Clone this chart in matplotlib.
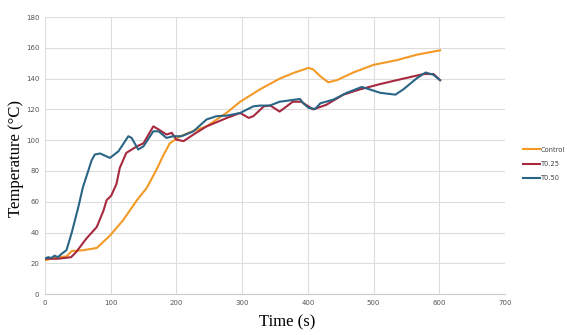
import matplotlib
matplotlib.use("Agg")
import matplotlib.pyplot as plt
import numpy as np

# Control
t_ctrl = [0, 10, 20, 33, 41, 58, 79, 99, 119, 140, 155, 170, 180, 190, 206, 226, 246,
          277, 297, 327, 357, 380, 401, 408, 419, 431, 444, 469, 500, 535, 566, 601]
y_ctrl = [22, 23, 24, 24.5, 28, 28.5, 30, 38, 48, 61, 69, 81, 90, 98, 102.6, 106, 109,
          118, 125, 133, 140, 144, 147, 146, 141.5, 137.6, 139, 144, 149, 152, 155.6, 158.4]

# T0.25
t_t25 = [0, 20, 40, 48, 63, 79, 89, 94, 101, 109, 114, 124, 140, 150, 165, 173, 185,
         193, 200, 211, 226, 246, 277, 297, 310, 317, 333, 343, 357, 377, 390, 408,
         428, 454, 479, 510, 545, 576, 591, 601]
y_t25 = [23, 23, 24, 27.5, 36, 43.6, 54, 61, 64, 71.6, 82, 91.8, 96, 98, 109, 107, 103.7,
         104.8, 100.4, 99.4, 103.7, 109, 114.5, 117.7, 114.5, 115.6, 122, 122.5, 118.6,
         125, 125, 120, 123, 129.6, 133, 136.5, 140, 143, 143, 139]

# T0.50
t_t50 = [0, 5, 10, 15, 20, 25, 33, 41, 51, 58, 66, 71, 76, 84, 99, 112, 127, 132, 142,
         150, 165, 173, 185, 195, 208, 226, 246, 261, 277, 297, 317, 327, 342, 357,
         388, 393, 401, 411, 419, 439, 459, 482, 494, 510, 533, 545, 566, 579, 591, 601]
y_t50 = [23, 24, 23.5, 25, 24, 26, 28.6, 40, 56.6, 69.5, 80, 86.7, 90.7, 91.4, 88.5, 92.8,
         102.6, 101.5, 94, 96, 105.8, 105.8, 101.5, 102.6, 102.6, 105.8, 113.5, 115.6,
         116, 117.7, 122, 122.5, 122.5, 125, 126.8, 124, 121, 120.3, 124, 126.4, 130.8,
         134.6, 133, 130.8, 129.6, 133, 140.4, 144, 142.5, 139]

series = [("Control", t_ctrl, y_ctrl, "#F39A26"),
          ("T0.25", t_t25, y_t25, "#A7293F"),
          ("T0.50", t_t50, y_t50, "#2B6585")]

fig = plt.figure(figsize=(5.67, 3.35), dpi=100)
ax = fig.add_axes([0.079, 0.122, 0.812, 0.827])

for name, t, y, c in series:
    ax.plot(t, y, color=c, lw=1.5, label=name)

ax.set_xlim(0, 700)
ax.set_ylim(0, 180)
ax.set_xticks(np.arange(0, 701, 100))
ax.set_yticks(np.arange(0, 181, 20))
ax.grid(True, color="#DDDDDD", lw=0.8)
ax.set_axisbelow(True)
for s in ["top", "right", "left"]:
    ax.spines[s].set_visible(False)
ax.spines["bottom"].set_color("#CCCCCC")
ax.tick_params(length=0, labelsize=5, colors="#555555", pad=4)

ax.set_xlabel("Time (s)", family="Liberation Serif", fontsize=12)
ax.set_ylabel("Temperature (°C)", family="Liberation Serif", fontsize=12)
ax.xaxis.set_label_coords(0.526, -0.074)
ax.yaxis.set_label_coords(-0.046, 0.49)

ax.legend(loc="center left", bbox_to_anchor=(1.025, 0.47), frameon=False,
          fontsize=4.8, handlelength=2.6, handletextpad=0.1, labelspacing=1.25,
          labelcolor="#444444")

fig.savefig("out.png", dpi=100)
